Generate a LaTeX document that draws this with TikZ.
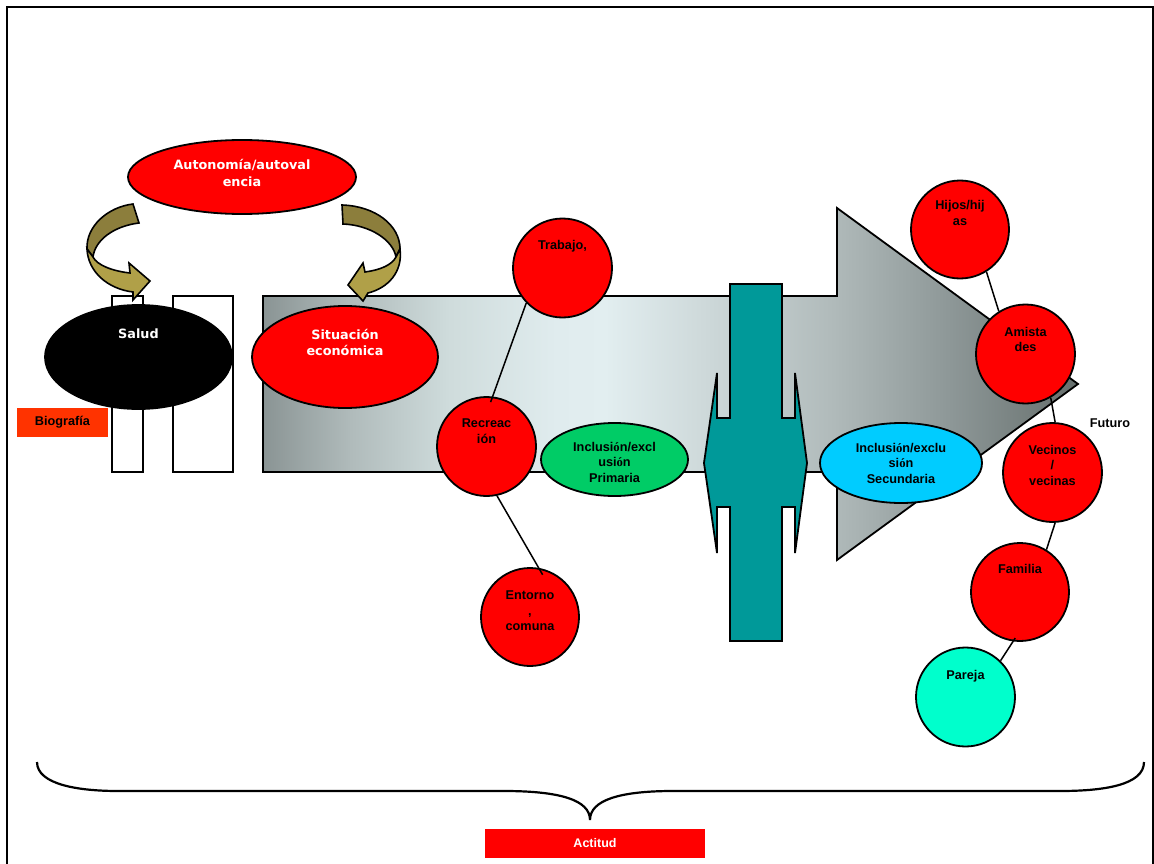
\documentclass[tikz,border=0pt]{standalone}
\usepackage{fontspec}
\setmainfont{Liberation Sans}
\newfontfamily\dvsans{DejaVu Sans}
\newfontfamily\seracc{Liberation Serif}
\usetikzlibrary{shapes.geometric,calc}

\definecolor{bioorange}{HTML}{FF3300}
\definecolor{tealbar}{HTML}{009999}
\definecolor{greenell}{HTML}{00CC66}
\definecolor{cyanell}{HTML}{00CCFF}
\definecolor{aquaball}{HTML}{00FFCC}
\definecolor{olivedark}{HTML}{8C7E3C}
\definecolor{olivelight}{HTML}{B0A048}
\definecolor{arrA}{HTML}{8A9494}
\definecolor{arrB}{HTML}{B0BBBB}
\definecolor{arrC}{HTML}{CFDCDC}
\definecolor{arrD}{HTML}{E0ECEE}
\definecolor{arrH}{HTML}{E2EEF0}
\definecolor{arrI}{HTML}{CED9DA}
\definecolor{arrG}{HTML}{B0BABA}
\definecolor{arrE}{HTML}{8E9898}
\definecolor{arrF}{HTML}{666F6D}

% horizontal grey ramp of the large arrow (visible band 25bp..75bp)
\pgfdeclarehorizontalshading{bigarrowshade}{100bp}{%
  color(0bp)=(arrA); color(25bp)=(arrA); color(30.4bp)=(arrB);
  color(36.5bp)=(arrC); color(43bp)=(arrD); color(46bp)=(arrH);
  color(52bp)=(arrI); color(60bp)=(arrG); color(67bp)=(arrE);
  color(75bp)=(arrF); color(100bp)=(arrF)}

\newcommand{\oacc}{{\seracc ó}}

\tikzset{
  outl/.style={draw=black, line width=1.8pt},
  redball/.style={circle, outl, fill=red, minimum size=99pt, inner sep=0pt},
  lbltxt/.style={font=\fontsize{12.7}{15.5}\selectfont\bfseries, align=center, text=black},
  whitetxt/.style={font=\dvsans\fontsize{12.8}{16.5}\selectfont\bfseries, align=center, text=white},
  link/.style={line width=1.5pt, draw=black},
  ellnode/.style={ellipse, outl, inner sep=0pt},
  ribbon/.style={draw=black, line width=1.6pt},
}

\begin{document}
\begin{tikzpicture}[x=1pt, y=-1pt, line join=miter]
\useasboundingbox (0,0) rectangle (1154,864);

% page frame
\draw[line width=2.2pt] (7,864) -- (7,7) -- (1153,7) -- (1153,864);

% two white bars behind the health ellipse
\draw[outl, fill=white] (112,296) rectangle (143,472);
\draw[outl, fill=white] (173,296) rectangle (233,472);

% large shaded arrow
\path[shading=bigarrowshade]
  (263,296) -- (837,296) -- (837,208) -- (1078,384) -- (837,560)
  -- (837,472) -- (263,472) -- cycle;
\draw[outl]
  (263,296) -- (837,296) -- (837,208) -- (1078,384) -- (837,560)
  -- (837,472) -- (263,472) -- cycle;

% vertical teal double arrow
\draw[outl, fill=tealbar]
  (730,284) -- (782,284) -- (782,418) -- (795,418) -- (795,373) -- (807,463)
  -- (795,553) -- (795,507) -- (782,507) -- (782,641) -- (730,641)
  -- (730,507) -- (717,507) -- (717,553) -- (704,463) -- (717,373)
  -- (717,418) -- (730,418) -- cycle;

% left-hand side
\node[ellnode, fill=black, minimum width=187pt, minimum height=104pt,
  label={[whitetxt, yshift=23pt]center:Salud}] (salud) at (138.5,357) {};
\node[fill=bioorange, minimum width=91pt, minimum height=29pt, inner sep=0pt,
  lbltxt] (bio) at (62.5,422.5) {Biografía};
\node[ellnode, fill=red, minimum width=186pt, minimum height=102pt,
  label={[whitetxt, yshift=14.5pt]center:Situación\\económica}] (sit) at (345,357) {};

% curved ribbon arrows
\fill[olivedark, ribbon]
  (133,204) .. controls (108,207) and (86,226) .. (87,249) -- (93,257)
  .. controls (95,240) and (114,226) .. (139,223) -- cycle;
\fill[olivelight, ribbon]
  (87,249) .. controls (88,272) and (108,289) .. (133,292) -- (133,300)
  -- (150,281) -- (129,263) -- (130,273)
  .. controls (112,271) and (97,265) .. (93,257) -- cycle;
\fill[olivedark, ribbon]
  (342,205) .. controls (375,206) and (400,225) .. (400,249) -- (396,257)
  .. controls (393,240) and (370,225) .. (343,224) -- cycle;
\fill[olivelight, ribbon]
  (400,249) .. controls (403,272) and (388,288) .. (368,293) -- (363,301)
  -- (348,285) -- (363,263) -- (365,272)
  .. controls (380,270) and (392,265) .. (396,257) -- cycle;

\node[ellnode, fill=red, minimum width=228pt, minimum height=74pt,
  label={[whitetxt, yshift=4pt]center:Autonomía/autoval\\encia}] (auto) at (242,177) {};

% middle group
\node[redball, label={[lbltxt, yshift=22pt]center:{Trabajo,}}] (trab) at (562.5,268) {};
\node[redball, label={[lbltxt, yshift=15.5pt]center:Recreac\\ión}] (recr) at (486.5,446.5) {};
\node[redball, minimum size=98pt, label={[lbltxt, yshift=6pt]center:{Entorno\\,\\comuna}}] (ento) at (530,617) {};
\node[ellnode, fill=greenell, minimum width=147pt, minimum height=73pt,
  label={[lbltxt, yshift=-2.5pt]center:Inclusi\oacc n/excl\\usi\oacc n\\Primaria}] (prim) at (614.5,459.5) {};
\node[ellnode, fill=cyanell, minimum width=162pt, minimum height=80pt,
  label={[lbltxt]center:Inclusi\oacc n/exclu\\si\oacc n\\Secundaria}] (secu) at (901,463) {};

% right-hand group
\node[redball, minimum size=98pt, label={[lbltxt, yshift=16.5pt]center:Hijos/hij\\as}] (hijo) at (960,229.5) {};
\node[redball, label={[lbltxt, yshift=14.5pt]center:Amista\\des}] (amis) at (1025.5,354) {};
\node[redball, label={[lbltxt, yshift=7.5pt]center:Vecinos\\/\\vecinas}] (veci) at (1052.5,472.5) {};
\node[redball, minimum size=98pt, label={[lbltxt, yshift=23pt]center:Familia}] (fami) at (1020,592) {};
\node[redball, fill=aquaball, label={[lbltxt, yshift=21pt]center:Pareja}] (pare) at (965.5,697) {};
\node[lbltxt] (futu) at (1110,423) {Futuro};

% connectors
\draw[link, shorten >=-6pt] (trab.224) -- (recr.83);
\draw[link, shorten >=-8pt] (recr.282) -- (ento.80);
\draw[link] (hijo.302) -- (amis.122);
\draw[link] (amis.300) -- (veci.87);
\draw[link] (veci.273) -- (fami.58);
\draw[link, shorten <=-4pt] (fami.262) -- (pare.46);

% brace and its caption
\draw[line width=2.2pt]
  (37,762) .. controls (37,785) and (80,791) .. (118,791) -- (504,791)
  .. controls (560,791) and (590,800) .. (590,820)
  .. controls (590,800) and (620,791) .. (673,791) -- (1060,791)
  .. controls (1104,791) and (1144,785) .. (1144,762);
\node[fill=red, minimum width=220pt, minimum height=29pt, inner sep=0pt,
  font=\fontsize{12.5}{15}\selectfont\bfseries, text=white] (acti) at (595,843.5) {Actitud};
\end{tikzpicture}
\end{document}
